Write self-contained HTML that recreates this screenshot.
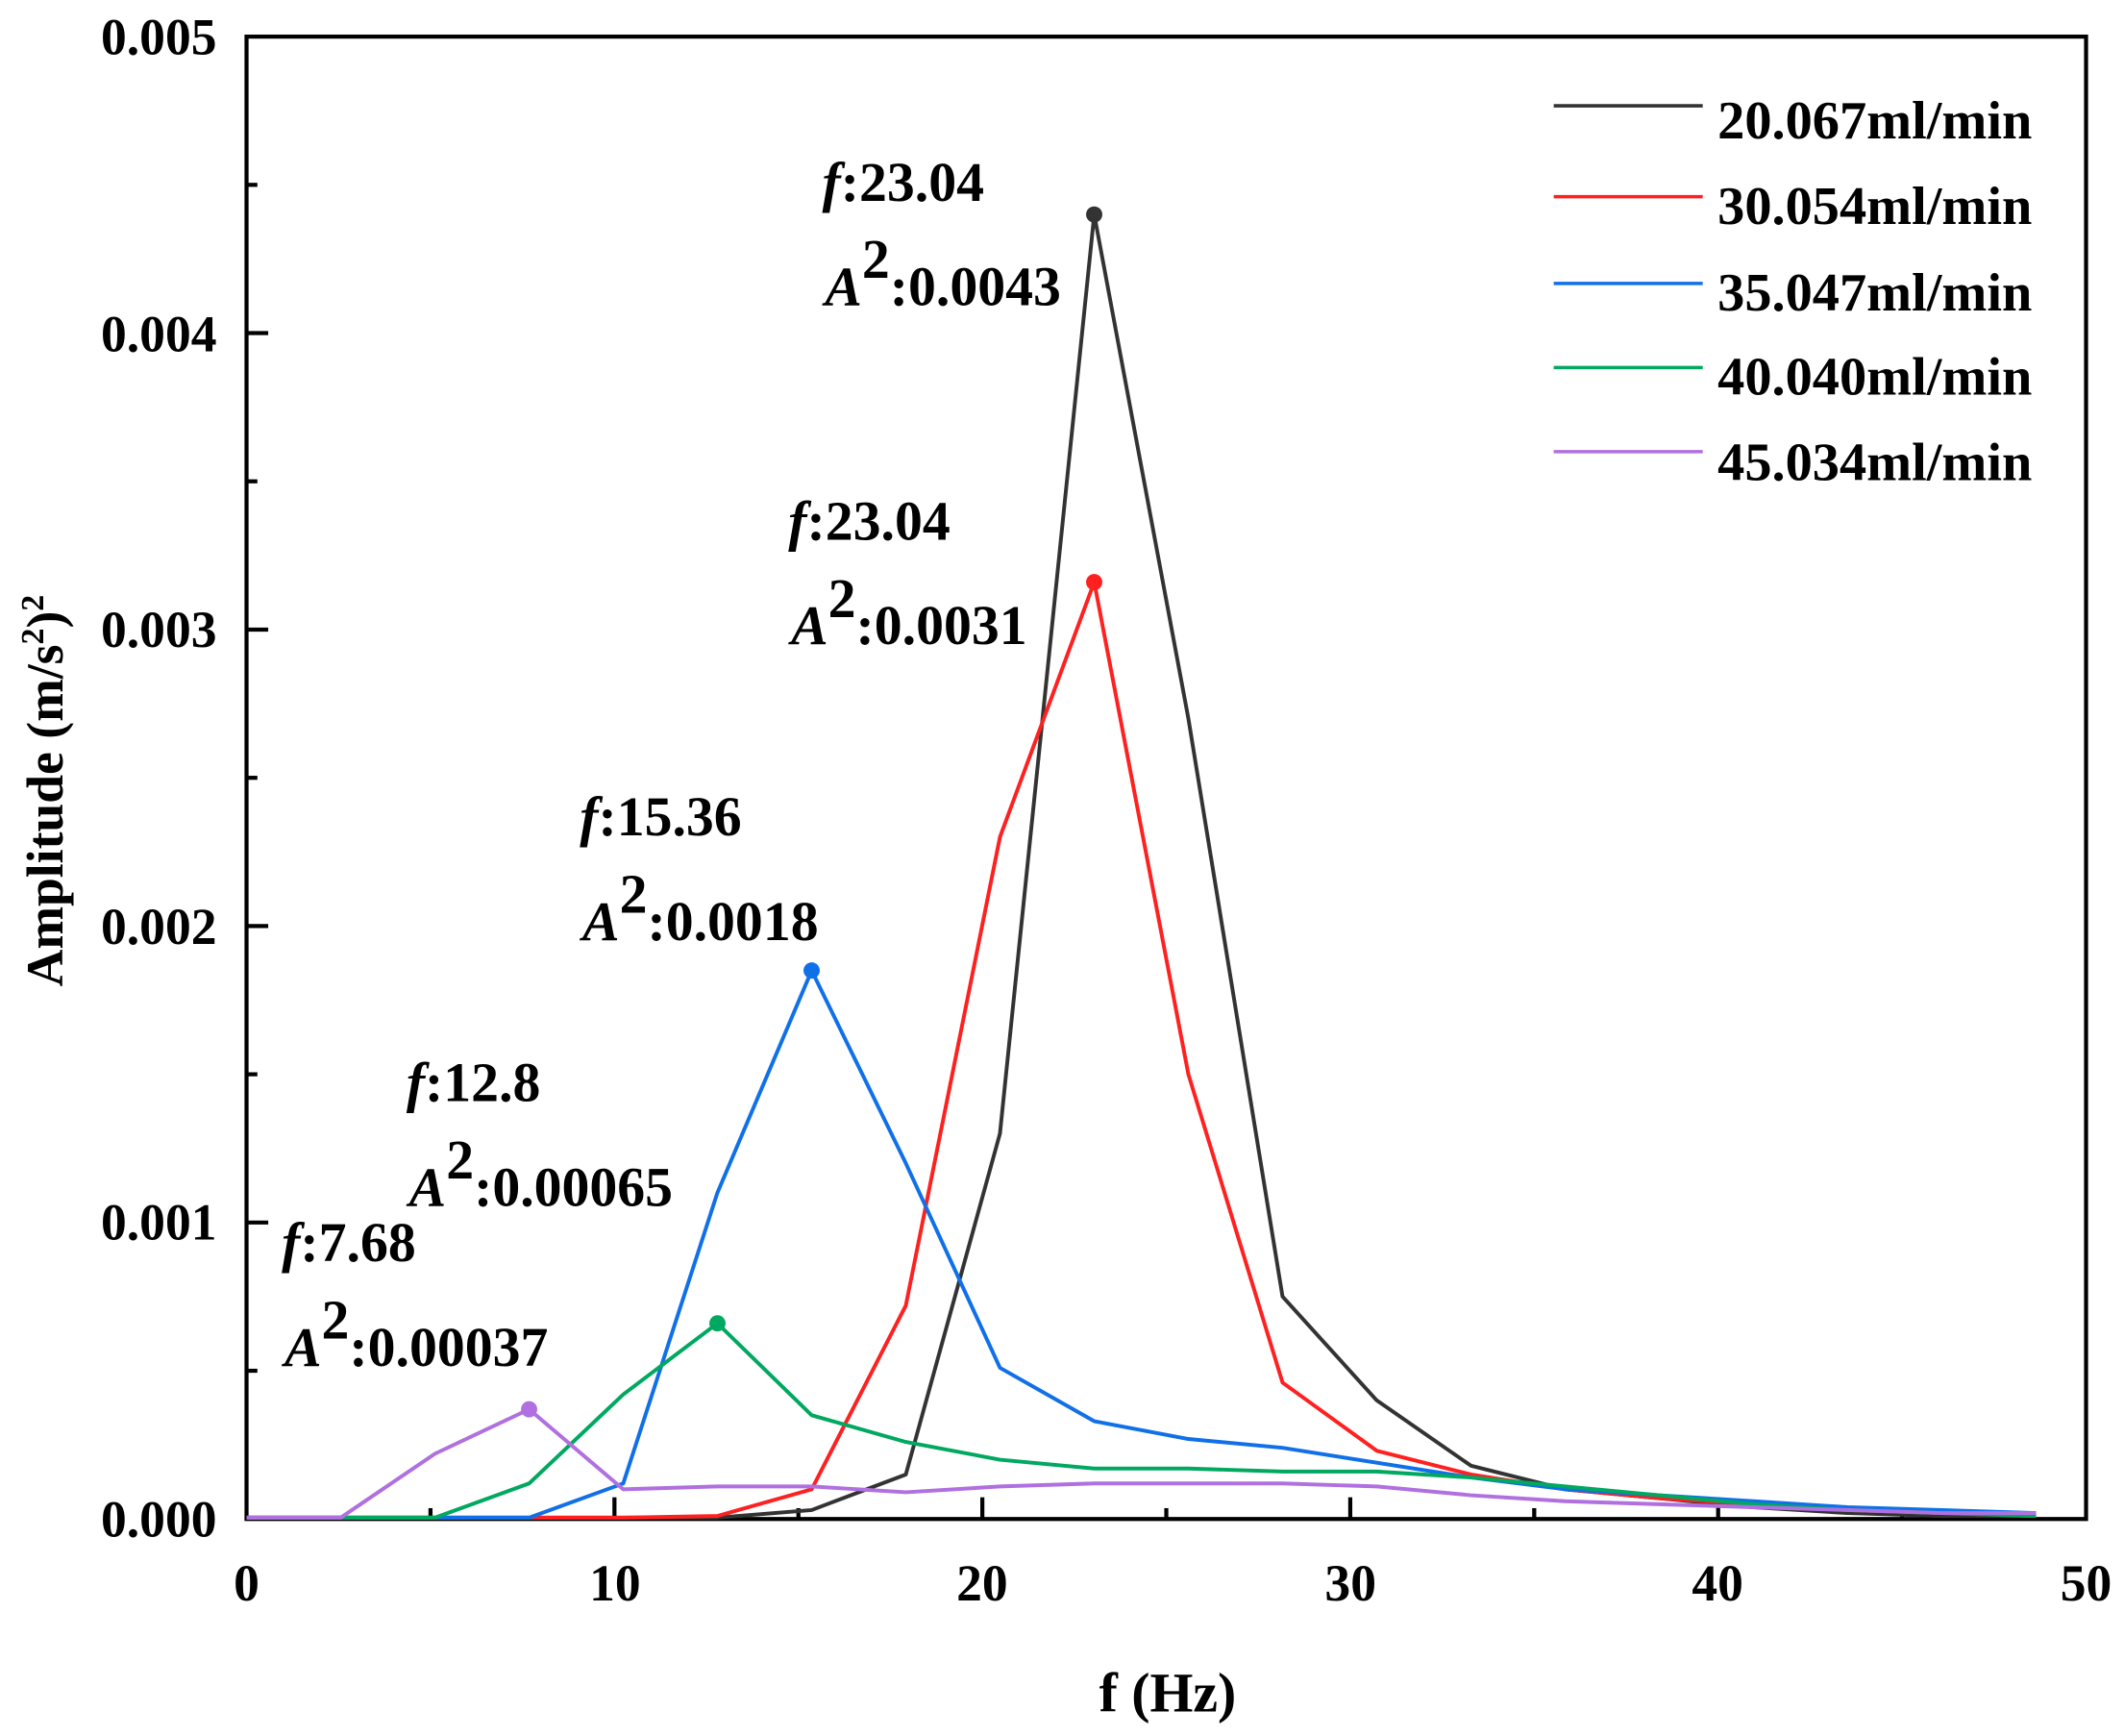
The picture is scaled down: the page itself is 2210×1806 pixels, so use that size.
<!DOCTYPE html>
<html><head><meta charset="utf-8"><style>
html,body{margin:0;padding:0;background:#fff;}
svg{display:block;}
text{font-family:"Liberation Serif",serif;font-weight:bold;fill:#000;}
</style></head><body>
<svg id="s" width="2210" height="1806" viewBox="0 0 1568 1280" preserveAspectRatio="none" xmlns="http://www.w3.org/2000/svg">
<rect x="182" y="27" width="1358" height="1093" fill="none" stroke="#000" stroke-width="3"/>
<g id="plot"></g>
<g font-size="38">
<text x="160" y="1133" text-anchor="end">0.000</text>
<text x="160" y="914" text-anchor="end">0.001</text>
<text x="160" y="696" text-anchor="end">0.002</text>
<text x="160" y="477" text-anchor="end">0.003</text>
<text x="160" y="259" text-anchor="end">0.004</text>
<text x="160" y="40" text-anchor="end">0.005</text>
<text x="182" y="1180" text-anchor="middle">0</text>
<text x="454" y="1180" text-anchor="middle">10</text>
<text x="725" y="1180" text-anchor="middle">20</text>
<text x="997" y="1180" text-anchor="middle">30</text>
<text x="1268" y="1180" text-anchor="middle">40</text>
<text x="1540" y="1180" text-anchor="middle">50</text>
</g>
<text x="862" y="1262" font-size="41" text-anchor="middle">f (Hz)</text>
<text transform="translate(46,583) rotate(-90)" font-size="38" text-anchor="middle">Amplitude (m/s<tspan font-size="24" dy="-14">2</tspan><tspan dy="14">)</tspan><tspan font-size="24" dy="-14">2</tspan></text>
<g font-size="40">
<line x1="1147" y1="78" x2="1257" y2="78" stroke="#333" stroke-width="2.5"/><text x="1268" y="102">20.067ml/min</text>
<line x1="1147" y1="145" x2="1257" y2="145" stroke="#ff2020" stroke-width="2.5"/><text x="1268" y="165">30.054ml/min</text>
<line x1="1147" y1="209" x2="1257" y2="209" stroke="#1070e8" stroke-width="2.5"/><text x="1268" y="229">35.047ml/min</text>
<line x1="1147" y1="271" x2="1257" y2="271" stroke="#00a860" stroke-width="2.5"/><text x="1268" y="291">40.040ml/min</text>
<line x1="1147" y1="333" x2="1257" y2="333" stroke="#b070e0" stroke-width="2.5"/><text x="1268" y="354">45.034ml/min</text>
</g>
<g font-size="41" id="ann"></g>
</svg>
<script>
var NS="http://www.w3.org/2000/svg";
function X(f){return 182+f*27.16;}
function Y(a){return 1120-a*218600;}
var fr=[];for(var i=0;i<20;i++)fr.push(i*2.56);
var series=[
{c:"#333333",d:[0,0,0,0,0,0,0.00003,0.00015,0.0013,0.0044,0.0027,0.00075,0.0004,0.00018,0.0001,0.00007,0.00004,0.00002,0.00001,0.00001],p:9},
{c:"#ff2020",d:[0,0,0,0,0,0.00001,0.0001,0.00072,0.0023,0.00316,0.0015,0.00046,0.00023,0.00015,0.0001,0.00007,0.00005,0.00003,0.00002,0.00001],p:9},
{c:"#1070e8",d:[0,0,0,0,0.00012,0.0011,0.00185,0.0012,0.00051,0.00033,0.00027,0.00024,0.00019,0.00014,0.0001,0.00008,0.00006,0.00004,0.00003,0.00002],p:6},
{c:"#00a860",d:[0,0,0,0.00012,0.00042,0.00066,0.00035,0.00026,0.0002,0.00017,0.00017,0.00016,0.00016,0.00014,0.00011,0.00008,0.00005,0.00003,0.00002,0.00001],p:5},
{c:"#b070e0",d:[0,0,0.00022,0.00037,0.0001,0.00011,0.00011,0.00009,0.00011,0.00012,0.00012,0.00012,0.00011,0.00008,0.00006,0.00005,0.00004,0.00003,0.00002,0.00002],p:3}
];
var g=document.getElementById("plot");
function el(n,a){var e=document.createElementNS(NS,n);for(var k in a)e.setAttribute(k,a[k]);g.appendChild(e);return e;}
for(var f=5;f<50;f+=5){el("line",{x1:X(f),x2:X(f),y1:1120,y2:f%10?1112:1104,stroke:"#000","stroke-width":3});}
for(var a=0.0005;a<0.005;a+=0.0005){var maj=Math.round(a*10000)%10==0;el("line",{x1:182,x2:maj?198:190,y1:Y(a),y2:Y(a),stroke:"#000","stroke-width":3});}
series.forEach(function(s){var pts=[];s.d.forEach(function(v,i){pts.push(X(fr[i]).toFixed(1)+","+Math.min(Y(v),1119).toFixed(1));});
el("polyline",{points:pts.join(" "),fill:"none",stroke:s.c,"stroke-width":2.8,"stroke-linejoin":"round"});
el("circle",{cx:X(fr[s.p]),cy:Y(s.d[s.p]),r:6,fill:s.c});});
var ann=[[607,148,"23.04","0.0043",225],[582,398,"23.04","0.0031",475],[428,616,"15.36","0.0018",693],[300,812,"12.8","0.00065",889],[208,930,"7.68","0.00037",1007]];
var ag=document.getElementById("ann");
ann.forEach(function(a){
 var t=document.createElementNS(NS,"text");t.setAttribute("x",a[0]);t.setAttribute("y",a[1]);
 t.innerHTML='<tspan font-style="italic">f</tspan>:'+a[2];ag.appendChild(t);
 var t2=document.createElementNS(NS,"text");t2.setAttribute("x",a[0]+2);t2.setAttribute("y",a[4]);
 t2.innerHTML='<tspan font-style="italic">A</tspan><tspan dy="-20">2</tspan><tspan dy="20">:'+a[3]+'</tspan>';ag.appendChild(t2);
});
</script>
</body></html>
